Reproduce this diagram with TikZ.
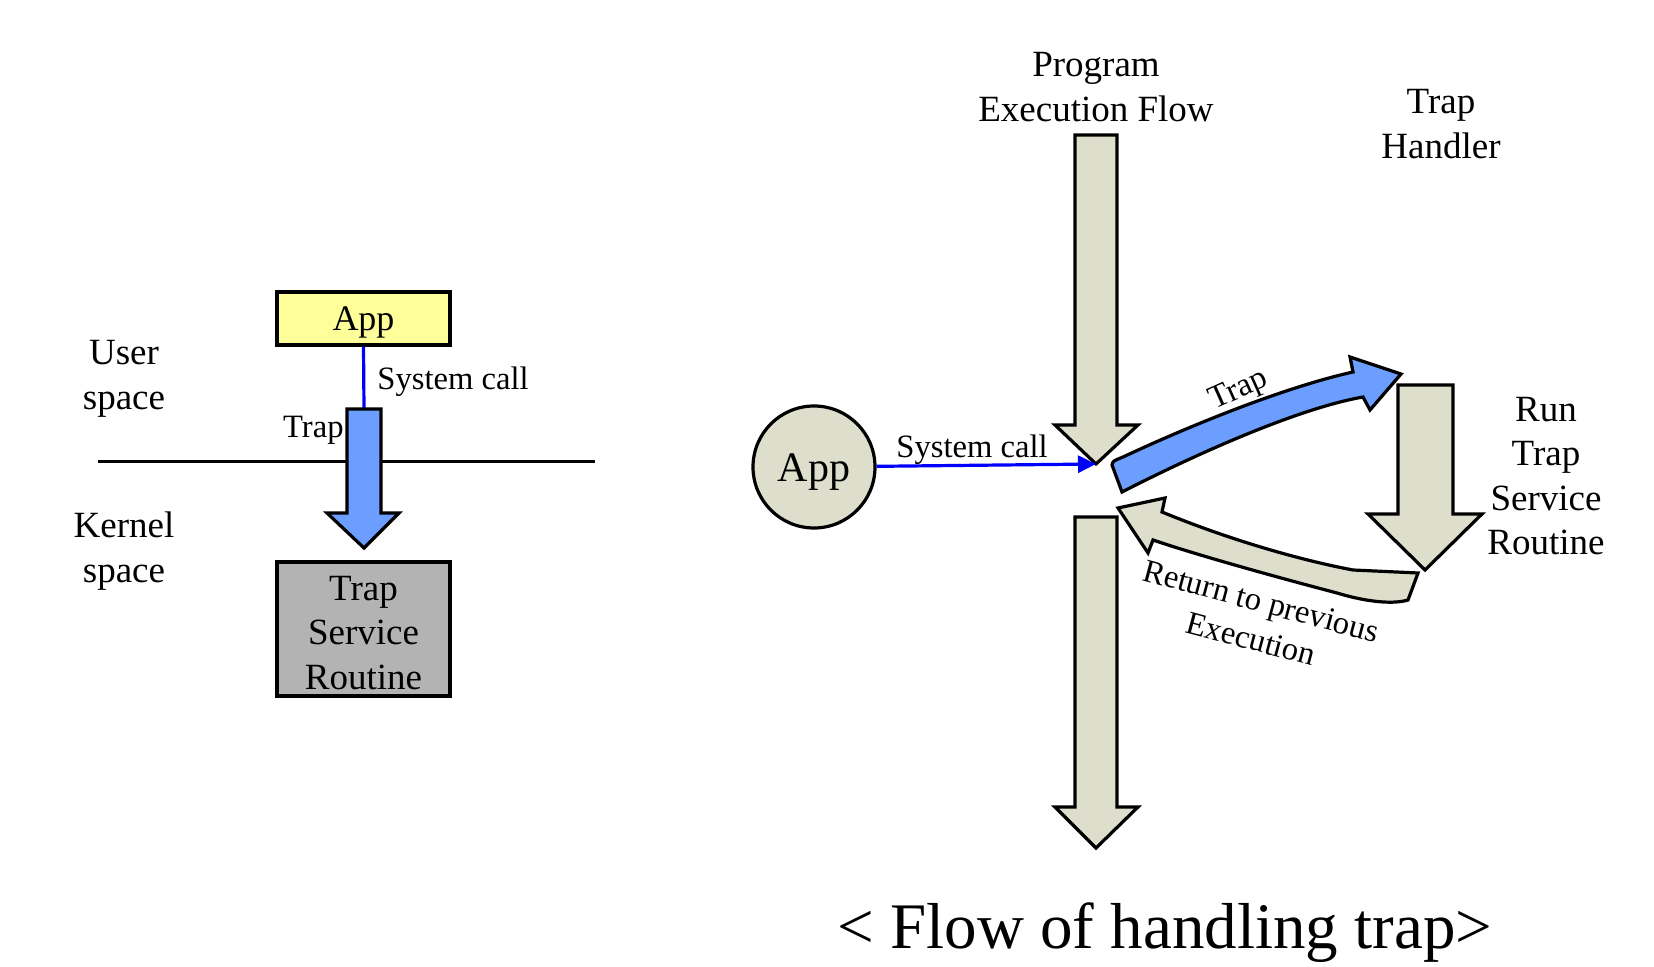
\documentclass[tikz,border=0pt]{standalone}
\usepackage{fontspec}
\setmainfont{Liberation Serif}
\usetikzlibrary{arrows.meta}
\definecolor{flowgray}{RGB}{221,222,203}
\definecolor{trapblue}{RGB}{108,158,255}
\definecolor{appyellow}{RGB}{255,255,153}
\definecolor{tsrgray}{RGB}{179,179,179}

\begin{document}
\begin{tikzpicture}[x=0.5pt,y=-0.5pt,
  shapeline/.style={draw=black,line width=1.6pt,line join=miter},
  lbl/.style={font=\fontsize{18.5}{22.3}\selectfont,align=center,inner sep=0pt},
  smalllbl/.style={font=\fontsize{16.3}{19.5}\selectfont,align=center,inner sep=0pt},
  call/.style={blue,line width=1.6pt}]
\useasboundingbox (0,0) rectangle (1654,967);

% left part : user / kernel
\draw [line width=1.5pt] (98,462)--(595,462);
\node [lbl] (user) at (124,379) {User\\space};
\node [lbl] (kernel) at (124,551) {Kernel\\space};
\node [shapeline, fill=appyellow, minimum width=86.5pt, minimum height=26.5pt,
  text depth=0pt, font=\fontsize{18}{21}\selectfont] (app) at (363.5,318.5) {App};
\node [shapeline, fill=tsrgray, minimum width=86.5pt, minimum height=67pt] (tsr)
  at (363.5,629) {};
\node [lbl] (tsrtext) at ([yshift=-2pt]tsr.center) {Trap\\Service\\Routine};
\coordinate (traptop) at (364,409);
\draw [call] (app.south)--(traptop);
\draw [shapeline, fill=trapblue] (347,409)--(381,409)--(381,513)--(399,513)
  --(364,548)--(327,513)--(347,513)--cycle;
\node [smalllbl, anchor=west] (lsys) at (377,382) {System call};
\node [smalllbl, anchor=east] (ltrap) at (344,430) {Trap};

% right part : flow of handling trap
\node [lbl] (flow) at (1096,87) {Program\\Execution Flow};
\node [lbl] (handler) at (1441,124) {Trap\\Handler};
\node [lbl] (run) at (1546,476) {Run\\Trap\\Service\\Routine};

\draw [shapeline, fill=flowgray] (1075,135)--(1117,135)--(1117,425)--(1138,425)
  --(1096,464)--(1055,425)--(1075,425)--cycle;
\draw [shapeline, fill=flowgray] (1075,517)--(1117,517)--(1117,807)--(1138,807)
  --(1096,848)--(1055,807)--(1075,807)--cycle;
\draw [shapeline, fill=flowgray] (1398,385)--(1453,385)--(1453,514)--(1482,514)
  --(1425,570)--(1368,514)--(1398,514)--cycle;

\node [shapeline, circle, fill=flowgray, minimum size=61pt, inner sep=0pt,
  text depth=0pt, font=\fontsize{21}{25}\selectfont] (app2) at (814,467)
  {\raisebox{-1pt}{App}};
\coordinate (entry) at (1096,464);
\draw [call, -{Triangle[length=9pt,width=8.5pt]}] (app2)--(entry);
\node [smalllbl] (rsys) at (972,450) {System call};

% trap arrow
\draw [shapeline, fill=trapblue] (1112,465) .. controls (1113,461) .. (1123,457)
  .. controls (1200,421) and (1290,386) .. (1353,372)
  --(1350,357)--(1401,374)--(1370,410)--(1363,397)
  .. controls (1300,408) and (1200,452) .. (1122,492)--cycle;
\node [smalllbl, rotate=24] (rtrap) at (1239,391) {Trap};

% return arrow
\draw [shapeline, fill=flowgray] (1118,508)--(1165,498)--(1162,512)
  .. controls (1230,540) and (1300,560) .. (1353,570)--(1418,573)
  --(1408,600) .. controls (1395,604) and (1370,603) .. (1337,593)
  .. controls (1280,578) and (1200,556) .. (1153,540)--(1148,553)--cycle;
\node [smalllbl, rotate=-15] (rret) at (1256,620) {Return to previous\\Execution};

\node [inner sep=0pt, anchor=base, font=\fontsize{32.5}{39}\selectfont] (title)
  at (1165,948) {< Flow of handling trap>};
\end{tikzpicture}
\end{document}
